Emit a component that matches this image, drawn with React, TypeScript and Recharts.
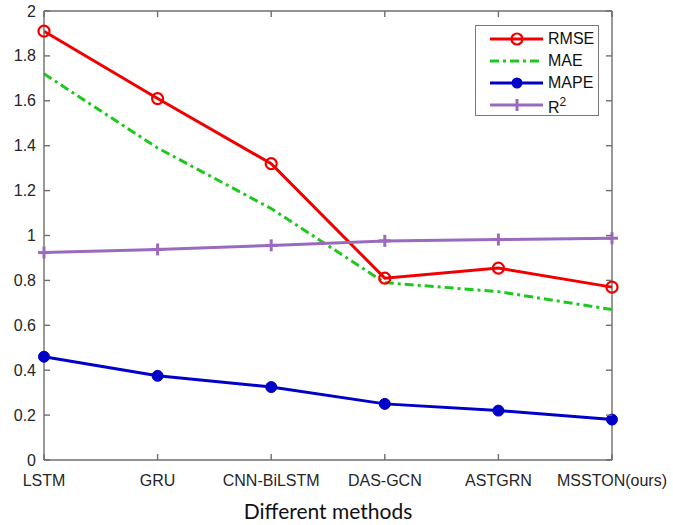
import { LineChart, Line, XAxis, YAxis, ReferenceLine } from "recharts"

const methods = ["LSTM", "GRU", "CNN-BiLSTM", "DAS-GCN", "ASTGRN", "MSSTON(ours)"]
const rmse = [1.91, 1.61, 1.32, 0.81, 0.855, 0.77]
const mae = [1.72, 1.39, 1.12, 0.79, 0.75, 0.67]
const mape = [0.46, 0.375, 0.325, 0.25, 0.22, 0.18]
const r2 = [0.924, 0.938, 0.956, 0.976, 0.982, 0.988]
const yTicks = [0, 0.2, 0.4, 0.6, 0.8, 1, 1.2, 1.4, 1.6, 1.8, 2]

const data = methods.map((m, i) => ({
  method: m,
  RMSE: rmse[i],
  MAE: mae[i],
  MAPE: mape[i],
  R2: r2[i]
}))

// plot box (MATLAB-like axes)
const W = 673
const H = 525
const PLOT_LEFT = 44
const PLOT_RIGHT = 612
const PLOT_TOP = 11
const PLOT_BOTTOM = 460

const RED = "#f20000"
const GREEN = "#1ec81e"
const BLUE = "#0000c8"
const PURPLE = "#9a6bbd"
const AXIS = "#6e6e6e"
const TEXT = "#262626"
const FONT = "'Liberation Sans', Arial, sans-serif"

const fmt = (v: number) => String(Number(v.toFixed(1)))

function LeftTick(props: any) {
  const { x, y, payload } = props
  return (
    <g>
      <line x1={PLOT_LEFT} x2={PLOT_LEFT + 6} y1={y} y2={y} stroke={AXIS} strokeWidth={1.4} />
      <line x1={PLOT_RIGHT} x2={PLOT_RIGHT - 6} y1={y} y2={y} stroke={AXIS} strokeWidth={1.4} />
      <text x={x} y={y} dy={5.5} textAnchor="end" fontSize={16} fill={TEXT} fontFamily={FONT}>
        {fmt(payload.value)}
      </text>
    </g>
  )
}

function BottomTick(props: any) {
  const { x, y, payload } = props
  return (
    <g>
      <line x1={x} x2={x} y1={PLOT_BOTTOM} y2={PLOT_BOTTOM - 6} stroke={AXIS} strokeWidth={1.4} />
      <line x1={x} x2={x} y1={PLOT_TOP} y2={PLOT_TOP + 6} stroke={AXIS} strokeWidth={1.4} />
      <text x={x} y={y} dy={16} textAnchor="middle" fontSize={16} fill={TEXT} fontFamily={FONT}>
        {payload.value}
      </text>
    </g>
  )
}

function OpenCircle(props: any) {
  const { cx, cy, index } = props
  return <circle key={index} cx={cx} cy={cy} r={5.5} fill="none" stroke={RED} strokeWidth={2.2} />
}

function FilledCircle(props: any) {
  const { cx, cy, index } = props
  return <circle key={index} cx={cx} cy={cy} r={5.5} fill={BLUE} stroke={BLUE} />
}

function Plus(props: any) {
  const { cx, cy, index } = props
  return (
    <g key={index}>
      <line x1={cx - 6} x2={cx + 6} y1={cy} y2={cy} stroke={PURPLE} strokeWidth={3} />
      <line x1={cx} x2={cx} y1={cy - 6} y2={cy + 6} stroke={PURPLE} strokeWidth={3} />
    </g>
  )
}

const legendRows = [
  { key: "RMSE", color: RED, dash: undefined, marker: "open" },
  { key: "MAE", color: GREEN, dash: "9 4 3 4", marker: "none" },
  { key: "MAPE", color: BLUE, dash: undefined, marker: "filled" },
  { key: "R2", color: PURPLE, dash: undefined, marker: "plus" }
]

function LegendBox() {
  return (
    <div
      style={{
        position: "absolute",
        left: 475,
        top: 25,
        width: 124,
        height: 91,
        border: "1.5px solid #7a7a7a",
        background: "#fff",
        fontFamily: FONT,
        fontSize: 16,
        color: "#111",
        boxSizing: "border-box",
        paddingTop: 2
      }}
    >
      {legendRows.map(r => (
        <div key={r.key} style={{ display: "flex", alignItems: "center", height: 22 }}>
          <svg width={70} height={20} style={{ flexShrink: 0 }}>
            <line x1={14} x2={67} y1={10} y2={10} stroke={r.color} strokeWidth={3} strokeDasharray={r.dash} />
            {r.marker === "open" && <circle cx={41} cy={10} r={5.5} fill="none" stroke={r.color} strokeWidth={2.2} />}
            {r.marker === "filled" && <circle cx={41} cy={10} r={5.5} fill={r.color} />}
            {r.marker === "plus" && <line x1={41} x2={41} y1={4} y2={16} stroke={r.color} strokeWidth={3} />}
          </svg>
          <span style={{ marginLeft: 2, lineHeight: "20px" }}>
            {r.key === "R2" ? (
              <>
                R<sup style={{ fontSize: 12, verticalAlign: "7px" }}>2</sup>
              </>
            ) : (
              r.key
            )}
          </span>
        </div>
      ))}
    </div>
  )
}

export default function App() {
  return (
    <div style={{ position: "absolute", left: 0, top: 0, width: W, height: H, background: "#fff" }}>
      <LineChart
        width={W}
        height={H}
        data={data}
        margin={{ top: PLOT_TOP, right: W - PLOT_RIGHT, bottom: 0, left: 0 }}
      >
        <XAxis
          dataKey="method"
          height={H - PLOT_BOTTOM}
          axisLine={{ stroke: AXIS, strokeWidth: 1.4 }}
          tickLine={false}
          tickSize={0}
          tickMargin={10}
          tick={<BottomTick />}
          interval={0}
          label={{
            value: "Different methods",
            position: "insideBottom",
            offset: 6,
            fontSize: 21,
            fill: "#111",
            fontFamily: "Lato, 'Open Sans', sans-serif"
          }}
        />
        <YAxis
          width={PLOT_LEFT}
          domain={[0, 2]}
          ticks={yTicks}
          axisLine={{ stroke: AXIS, strokeWidth: 1.4 }}
          tickLine={false}
          tickSize={0}
          tickMargin={8}
          tick={<LeftTick />}
          interval={0}
        />
        <ReferenceLine y={2} stroke={AXIS} strokeWidth={1.4} ifOverflow="visible" />
        <ReferenceLine x={methods[methods.length - 1]} stroke={AXIS} strokeWidth={1.4} ifOverflow="visible" />
        <Line
          dataKey="MAE"
          stroke={GREEN}
          strokeWidth={3}
          strokeDasharray="9 4 3 4"
          dot={false}
          isAnimationActive={false}
        />
        <Line dataKey="RMSE" stroke={RED} strokeWidth={3} dot={<OpenCircle />} isAnimationActive={false} />
        <Line dataKey="MAPE" stroke={BLUE} strokeWidth={3} dot={<FilledCircle />} isAnimationActive={false} />
        <Line dataKey="R2" stroke={PURPLE} strokeWidth={3} dot={<Plus />} isAnimationActive={false} />
      </LineChart>
      <LegendBox />
    </div>
  )
}
